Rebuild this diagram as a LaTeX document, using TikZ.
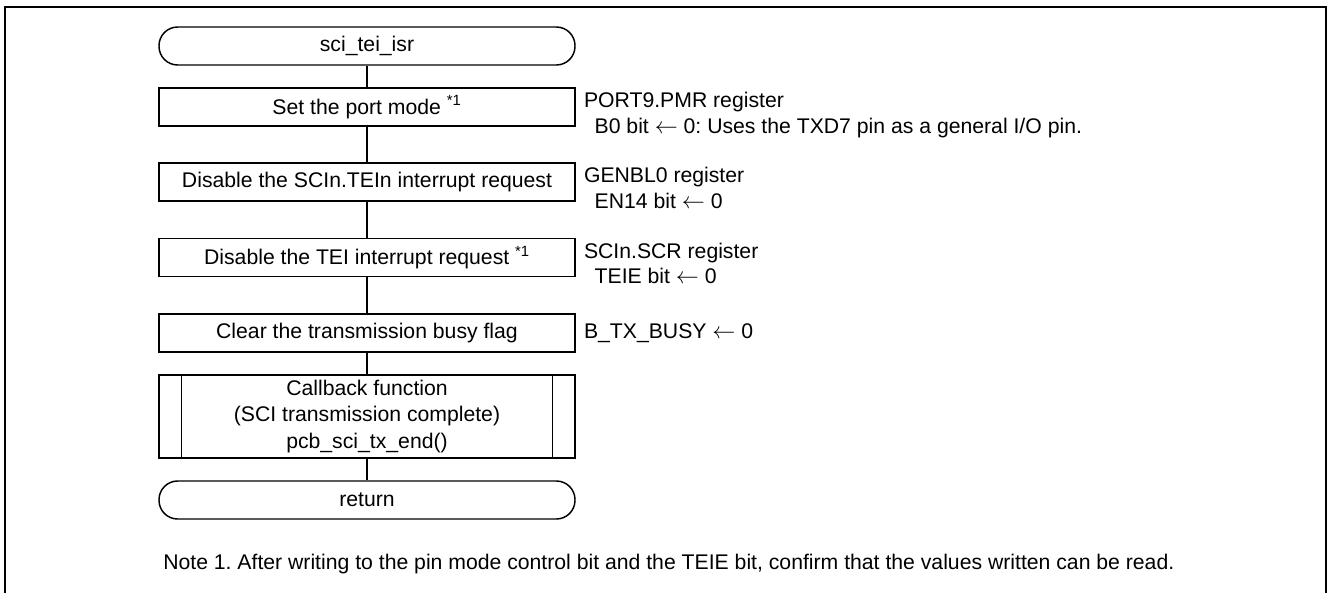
\documentclass[tikz,border=0pt]{standalone}
\usepackage{fontspec}
\setmainfont{Liberation Sans}
\usetikzlibrary{calc,positioning}
\frenchspacing

\begin{document}
\begin{tikzpicture}[
    x=0.75pt, y=-0.75pt,
    every node/.style={font=\fontsize{15.9}{18.9}\selectfont},
    flowbox/.style={draw, line width=1.1pt, minimum width=312pt, minimum height=28.5pt, inner sep=0pt},
    termbox/.style={flowbox, rounded corners=14pt},
    callbox/.style={flowbox, minimum height=62.25pt, align=center, font=\fontsize{15.9}{20}\selectfont},
    regtext/.style={anchor=north west, align=left, inner sep=0pt},
    link/.style={line width=1.1pt}
  ]
  \useasboundingbox (0,0) rectangle (1330,593);
  % frame, open at the bottom
  \draw[line width=2pt] (5,593) -- (5,7) -- (1326,7) -- (1326,593);

  % flow
  \node[termbox] (start) at (367,46) {sci\_tei\_isr};
  \node[flowbox] (port) at (367,107) {Set the port mode \textsuperscript{*1}};
  \node[flowbox] (genbl) at (367,182) {Disable the SCIn.TEIn interrupt request};
  \node[flowbox] (teie) at (367,257.5) {Disable the TEI interrupt request \textsuperscript{*1}};
  \node[flowbox] (busy) at (367,333) {Clear the transmission busy flag};
  \node[callbox] (cb) at (367,416.5) {Callback function\\(SCI transmission complete)\\pcb\_sci\_tx\_end()};
  \node[termbox] (ret) at (367,500) {return};

  \draw[link] ($(cb.north west)+(23,0)$) -- ($(cb.south west)+(23,0)$);
  \draw[link] ($(cb.north east)+(-23,0)$) -- ($(cb.south east)+(-23,0)$);

  \foreach \a/\b in {start/port, port/genbl, genbl/teie, teie/busy, busy/cb, cb/ret}
    \draw[link] (\a) -- (\b);

  % register settings
  \node[regtext] (portreg) at ($(port.north east)+(8,5)$) {PORT9.PMR register\\\hspace*{8pt}B0 bit $\leftarrow$ 0: Uses the TXD7 pin as a general I/O pin.};
  \node[regtext] (genblreg) at ($(genbl.north east)+(8,5)$) {GENBL0 register\\\hspace*{8pt}EN14 bit $\leftarrow$ 0};
  \node[regtext] (teiereg) at ($(teie.north east)+(8,5)$) {SCIn.SCR register\\\hspace*{8pt}TEIE bit $\leftarrow$ 0};
  \node[regtext, anchor=west] (busyreg) at ($(busy.east)+(8,0)$) {B\_TX\_BUSY $\leftarrow$ 0};

  \node[anchor=west, inner sep=0pt] (note) at (163,564) {Note 1. After writing to the pin mode control bit and the TEIE bit, confirm that the values written can be read.};
\end{tikzpicture}
\end{document}
